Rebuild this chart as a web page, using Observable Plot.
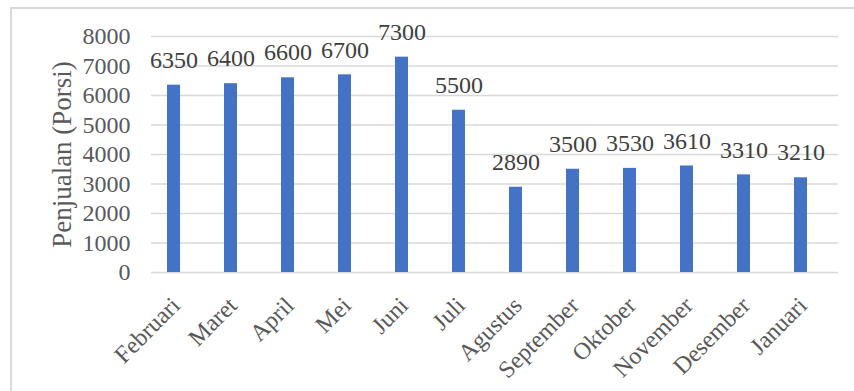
<!DOCTYPE html>
<html>
<head>
<meta charset="utf-8">
<script src="https://cdn.jsdelivr.net/npm/d3@7"></script>
<script src="https://cdn.jsdelivr.net/npm/@observablehq/plot@0.6"></script>
<style>
  html, body { margin: 0; padding: 0; background: #fff; overflow: hidden; }
  #wrap { position: relative; width: 854px; height: 391px; }
  #frame { position: absolute; left: 10px; top: 7px; width: 850px; height: 400px; border: 2px solid #d9d9d9; box-sizing: border-box; }
  #chart { position: absolute; left: 0; top: 0; }
</style>
</head>
<body>
<div id="wrap"><div id="frame"></div><div id="chart"></div></div>
<script>
const months = ["Februari","Maret","April","Mei","Juni","Juli","Agustus","September","Oktober","November","Desember","Januari"];
const sales = [6350,6400,6600,6700,7300,5500,2890,3500,3530,3610,3310,3210];
const yTicks = [0,1000,2000,3000,4000,5000,6000,7000,8000];
const yTitle = "Penjualan (Porsi)";

const data = months.map((m, i) => ({month: m, value: sales[i]}));
const font = "'Liberation Serif', 'Times New Roman', serif";

const chart = Plot.plot({
  width: 854,
  height: 391,
  marginLeft: 151,
  marginRight: 16,
  marginTop: 36,
  marginBottom: 119,
  style: {fontFamily: font, fontSize: "24px", color: "#595959", background: "transparent"},
  x: {domain: months, range: [143.4, 830.1], paddingInner: 0.77, paddingOuter: 0.385, label: null},
  y: {domain: [0, 8000], ticks: yTicks, label: null},
  marks: [
    Plot.ruleY(yTicks, {stroke: "#d9d9d9", strokeWidth: 1.5}),
    Plot.barY(data, {x: "month", y: "value", fill: "#4472C4"}),
    Plot.text(data, {x: "month", y: "value", text: d => String(d.value), dy: -25, fill: "#404040", fontSize: 24}),
    Plot.axisY({ticks: yTicks, tickSize: 0, tickPadding: 21, fontSize: 24, fill: "#595959", label: null, tickFormat: d => String(d)}),
    Plot.axisX({tickSize: 0, tickRotate: -45, tickPadding: 29, fontSize: 24, fill: "#595959", label: null, dx: 2}),
    Plot.text([yTitle], {frameAnchor: "left", dx: -89, rotate: -90, textAnchor: "middle", fontSize: 27, fill: "#595959", text: d => d})
  ]
});
document.getElementById("chart").appendChild(chart);
</script>
</body>
</html>
